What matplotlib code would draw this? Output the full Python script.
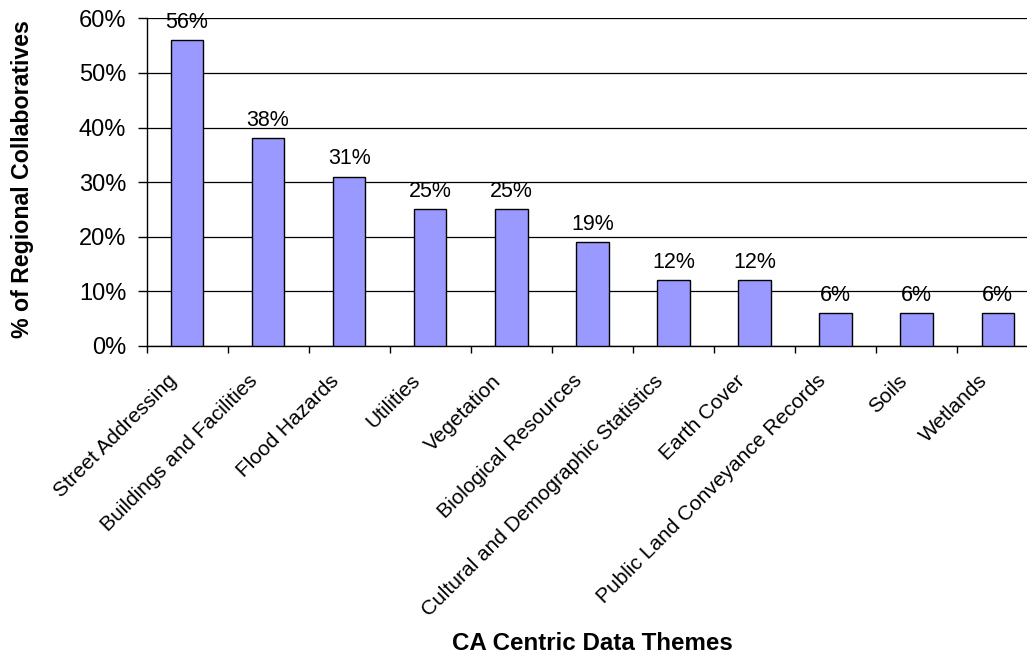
import matplotlib
matplotlib.use("Agg")
import matplotlib.pyplot as plt
import matplotlib.transforms as mtransforms
from matplotlib.ticker import FuncFormatter, FixedLocator
import numpy as np

categories = [
    "Street Addressing",
    "Buildings and Facilities",
    "Flood Hazards",
    "Utilities",
    "Vegetation",
    "Biological Resources",
    "Cultural and Demographic Statistics",
    "Earth Cover",
    "Public Land Conveyance Records",
    "Soils",
    "Wetlands",
]
values = [0.56, 0.38, 0.31, 0.25, 0.25, 0.19, 0.12, 0.12, 0.06, 0.06, 0.06]
value_labels = ["56%", "38%", "31%", "25%", "25%", "19%", "12%", "12%", "6%", "6%", "6%"]
y_ticks = [0.0, 0.1, 0.2, 0.3, 0.4, 0.5, 0.6]

plt.rcParams['font.family'] = ['Liberation Sans', 'DejaVu Sans']

fig = plt.figure(figsize=(10.27, 6.56), dpi=100)
fig.patch.set_facecolor('white')
ax = fig.add_axes([146.5 / 1027, 1 - 346 / 656, 891.8 / 1027, (346 - 18.3) / 656])
ax.set_facecolor('white')

x = np.arange(len(categories))
ax.set_axisbelow(True)
ax.yaxis.grid(True, color='black', linewidth=0.9)
ax.bar(x, values, width=0.4, color='#9999FF', edgecolor='black', linewidth=1.0, zorder=3)

for xi, v, lab in zip(x, values, value_labels):
    ax.annotate(lab, (xi, v), xytext=(0, 9), textcoords='offset points',
                ha='center', va='baseline', fontsize=15.5, color='black', zorder=4)

ax.set_xlim(-0.5, len(categories) - 0.5)
ax.set_ylim(0, 0.6)
ax.set_yticks(y_ticks)
ax.yaxis.set_major_formatter(FuncFormatter(lambda v, p: f"{v*100:.0f}%"))
ax.tick_params(axis='y', direction='out', length=6.5, width=1, pad=8, labelsize=17, colors='black')

ax.set_xticks(x)
ax.set_xticklabels(categories, rotation=45, ha='right', va='center', rotation_mode='anchor', fontsize=15)
ax.xaxis.set_minor_locator(FixedLocator(np.arange(-0.5, len(categories), 1.0)))
ax.tick_params(axis='x', which='major', length=0, pad=23)
ax.tick_params(axis='x', which='minor', direction='out', length=5, width=1, color='black')

offset = mtransforms.ScaledTranslation(-13 / 100, 0, fig.dpi_scale_trans)
for lbl in ax.get_xticklabels():
    lbl.set_transform(lbl.get_transform() + offset)

for side in ['top', 'right']:
    ax.spines[side].set_visible(False)
ax.spines['left'].set_color('black')
ax.spines['bottom'].set_color('black')
ax.spines['left'].set_linewidth(1)
ax.spines['bottom'].set_linewidth(1)

fig.text(23 / 1027, 1 - 179 / 656, "% of Regional Collaboratives", rotation=90,
         ha='center', va='center', fontsize=16.7, fontweight='bold')
fig.text(592 / 1027, 1 - 650 / 656, "CA Centric Data Themes",
         ha='center', va='baseline', fontsize=17.4, fontweight='bold')

fig.savefig("out.png", dpi=100, facecolor='white')
